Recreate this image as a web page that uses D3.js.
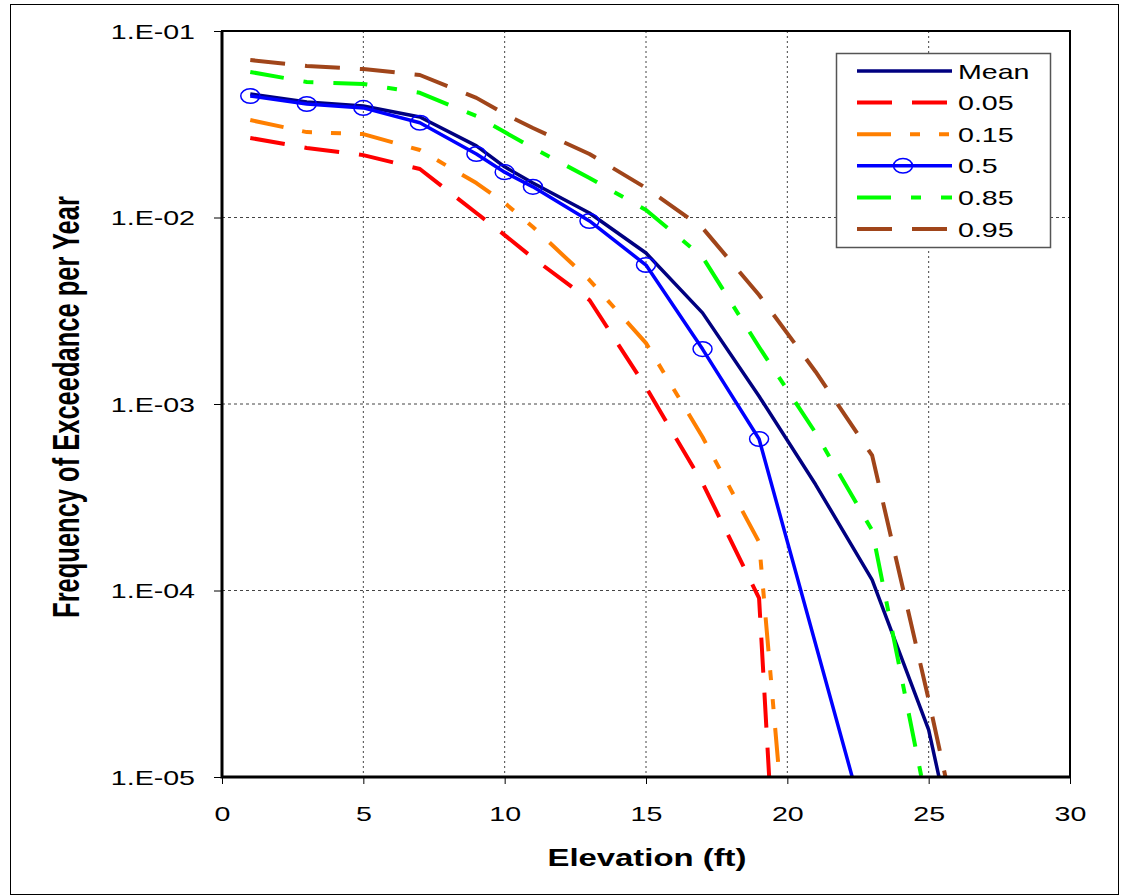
<!DOCTYPE html>
<html>
<head>
<meta charset="utf-8">
<script src="https://cdn.jsdelivr.net/npm/d3@7"></script>
<style>
  body { margin: 0; background: #fff; }
  svg { display: block; font-family: "Liberation Sans", Arial, sans-serif; }
</style>
</head>
<body>
<div id="chart"></div>
<script>
// elevation grid (ft) and exceedance frequencies
var elevation = [1, 3, 5, 7, 9, 10, 11, 13, 15, 17, 19, 21, 23, 25, 27];
var medianElevation = [1, 3, 5, 7, 9, 10, 11, 13, 15, 17, 19, 23];

var meanFreq = [0.0459, 0.0416, 0.0396, 0.0346, 0.0242, 0.0187, 0.0153, 0.01057, 0.00645, 0.00308, 0.0011, 0.00037, 0.000114, 0.0000179, 7.4e-7];
var q05Freq  = [0.0267, 0.0236, 0.0216, 0.0182, 0.01057, 0.00805, 0.00607, 0.00361, 0.00123, 0.000377, 0.000091, 3.9e-10];
var q15Freq  = [0.0333, 0.0287, 0.0280, 0.0230, 0.0153, 0.01197, 0.00889, 0.00462, 0.00212, 0.000665, 0.000182, 5.7e-8];
var medianFreq = [0.0448, 0.0406, 0.0387, 0.0322, 0.0219, 0.0175, 0.0146, 0.00958, 0.00556, 0.00197, 0.000649, 4.1e-6];
var q85Freq  = [0.0603, 0.0533, 0.0520, 0.0466, 0.0350, 0.0287, 0.0236, 0.0163, 0.01096, 0.00614, 0.00202, 0.00070, 0.00021, 6.4e-6];
var q95Freq  = [0.0699, 0.0649, 0.0625, 0.0581, 0.0438, 0.0359, 0.0302, 0.0219, 0.0144, 0.00879, 0.00384, 0.00149, 0.00053, 0.000026, 1.05e-6];

var seriesNames = ["Mean", "0.05", "0.15", "0.5", "0.85", "0.95"];
var xTicks = [0, 5, 10, 15, 20, 25, 30];
var yTicks = [1e-1, 1e-2, 1e-3, 1e-4, 1e-5];

var svgWidth = 1122, svgHeight = 896;
var plot = { left: 222, right: 1070, top: 31, bottom: 777 };
var stretch = 1.43; // text in the picture is widened horizontally

var svg = d3.select("#chart").append("svg")
  .attr("width", svgWidth)
  .attr("height", svgHeight);

// outer frame
svg.append("rect")
  .attr("x", 10.5).attr("y", 4.5)
  .attr("width", 1108).attr("height", 890)
  .attr("fill", "#fff")
  .attr("stroke", "#000")
  .attr("stroke-width", 1);

var x = d3.scaleLinear().domain([0, 30]).range([plot.left, plot.right]);
var y = d3.scaleLog().domain([1e-5, 1e-1]).range([plot.bottom, plot.top]);

// grid
svg.append("g").selectAll("line")
  .data(xTicks.slice(1, -1))
  .enter().append("line")
  .attr("x1", d => x(d)).attr("x2", d => x(d))
  .attr("y1", plot.top).attr("y2", plot.bottom)
  .attr("stroke", "#444").attr("stroke-width", 1)
  .attr("stroke-dasharray", "2,3");

svg.append("g").selectAll("line")
  .data(yTicks.slice(1, -1))
  .enter().append("line")
  .attr("x1", plot.left).attr("x2", plot.right)
  .attr("y1", d => y(d)).attr("y2", d => y(d))
  .attr("stroke", "#444").attr("stroke-width", 1)
  .attr("stroke-dasharray", "3,3");

// axes
var leftAxis = d3.axisLeft(y)
  .tickValues(yTicks)
  .tickSize(8)
  .tickFormat(d => "1.E-0" + Math.round(-Math.log10(d)));

var yAxisG = svg.append("g")
  .attr("transform", `translate(${plot.left}, 0)`)
  .call(leftAxis);
yAxisG.select(".domain").remove();
yAxisG.selectAll("line").attr("stroke", "#000");
yAxisG.selectAll("text")
  .attr("x", 0).attr("dy", "0.35em")
  .attr("transform", `translate(-27, 0) scale(${stretch}, 1)`)
  .attr("font-size", 20)
  .attr("font-family", "Liberation Sans, Arial, sans-serif")
  .attr("fill", "#000");

var bottomAxis = d3.axisBottom(x)
  .tickValues(xTicks)
  .tickSize(7)
  .tickFormat(d3.format("d"));

var xAxisG = svg.append("g")
  .attr("transform", `translate(0, ${plot.bottom})`)
  .call(bottomAxis);
xAxisG.select(".domain").remove();
xAxisG.selectAll("line").attr("stroke", "#000");
xAxisG.selectAll("text")
  .attr("y", 0).attr("dy", 0)
  .attr("transform", `translate(0, 44) scale(${stretch}, 1)`)
  .attr("font-size", 20)
  .attr("font-family", "Liberation Sans, Arial, sans-serif")
  .attr("fill", "#000");

// series
var series = [
  { name: seriesNames[0], xs: elevation, ys: meanFreq, color: "#000080", width: 3.5, dash: null },
  { name: seriesNames[1], xs: elevation, ys: q05Freq, color: "#ff0000", width: 4, dash: "35,20" },
  { name: seriesNames[2], xs: elevation, ys: q15Freq, color: "#ff7f00", width: 4, dash: "34,19,10,19,10,19" },
  { name: seriesNames[3], xs: medianElevation, ys: medianFreq, color: "#0000ff", width: 3.5, dash: null, marker: true },
  { name: seriesNames[4], xs: elevation, ys: q85Freq, color: "#00ff00", width: 4, dash: "34,20,10,20" },
  { name: seriesNames[5], xs: elevation, ys: q95Freq, color: "#a0451a", width: 4, dash: "35,20" }
];

svg.append("clipPath").attr("id", "plotClip")
  .append("rect")
  .attr("x", plot.left).attr("y", plot.top)
  .attr("width", plot.right - plot.left)
  .attr("height", plot.bottom - plot.top);

var drawLine = d3.line()
  .x(d => x(d[0]))
  .y(d => y(d[1]));

var linesG = svg.append("g").attr("clip-path", "url(#plotClip)");

series.forEach(function(s) {
  var pts = s.ys.map((v, i) => [s.xs[i], v]);
  linesG.append("path")
    .attr("d", drawLine(pts))
    .attr("fill", "none")
    .attr("stroke", s.color)
    .attr("stroke-width", s.width)
    .attr("stroke-linejoin", "round")
    .attr("stroke-dasharray", s.dash);
  if (s.marker) {
    linesG.selectAll(".marker")
      .data(pts)
      .enter().append("ellipse")
      .attr("class", "marker")
      .attr("cx", d => x(d[0]))
      .attr("cy", d => y(d[1]))
      .attr("rx", 9.5).attr("ry", 7.3)
      .attr("fill", "none")
      .attr("stroke", s.color)
      .attr("stroke-width", 1.5);
  }
});

// plot border
svg.append("rect")
  .attr("x", plot.left).attr("y", plot.top)
  .attr("width", plot.right - plot.left)
  .attr("height", plot.bottom - plot.top)
  .attr("fill", "none")
  .attr("stroke", "#000")
  .attr("stroke-width", 2);
svg.append("path")
  .attr("d", `M${plot.left},${plot.top}V${plot.bottom}H${plot.right}`)
  .attr("fill", "none")
  .attr("stroke", "#000")
  .attr("stroke-width", 3);

// axis titles
svg.append("text")
  .attr("transform", `translate(647, 866) scale(${stretch}, 1)`)
  .attr("text-anchor", "middle")
  .attr("font-size", 23)
  .attr("font-weight", "bold")
  .text("Elevation (ft)");

svg.append("text")
  .attr("transform", `translate(79, 407) scale(${stretch}, 1) rotate(-90)`)
  .attr("text-anchor", "middle")
  .attr("font-size", 25.5)
  .attr("font-weight", "bold")
  .text("Frequency of Exceedance per Year");

// legend
var legend = svg.append("g");
legend.append("rect")
  .attr("x", 836.5).attr("y", 53.5)
  .attr("width", 214).attr("height", 194)
  .attr("fill", "#fff")
  .attr("stroke", "#555")
  .attr("stroke-width", 1.5);

var rowY = d3.scalePoint().domain(seriesNames).range([71, 229]);

series.forEach(function(s) {
  var ry = rowY(s.name);
  legend.append("line")
    .attr("x1", 857).attr("x2", 952)
    .attr("y1", ry).attr("y2", ry)
    .attr("stroke", s.color)
    .attr("stroke-width", s.width)
    .attr("stroke-dasharray", s.dash);
  if (s.marker) {
    legend.append("ellipse")
      .attr("cx", 903).attr("cy", ry)
      .attr("rx", 9.5).attr("ry", 7.3)
      .attr("fill", "none")
      .attr("stroke", s.color)
      .attr("stroke-width", 1.5);
  }
  legend.append("text")
    .attr("transform", `translate(958, ${ry + 7.5}) scale(${stretch}, 1)`)
    .attr("font-size", 20)
    .attr("fill", "#000")
    .text(s.name);
});
</script>
</body>
</html>
